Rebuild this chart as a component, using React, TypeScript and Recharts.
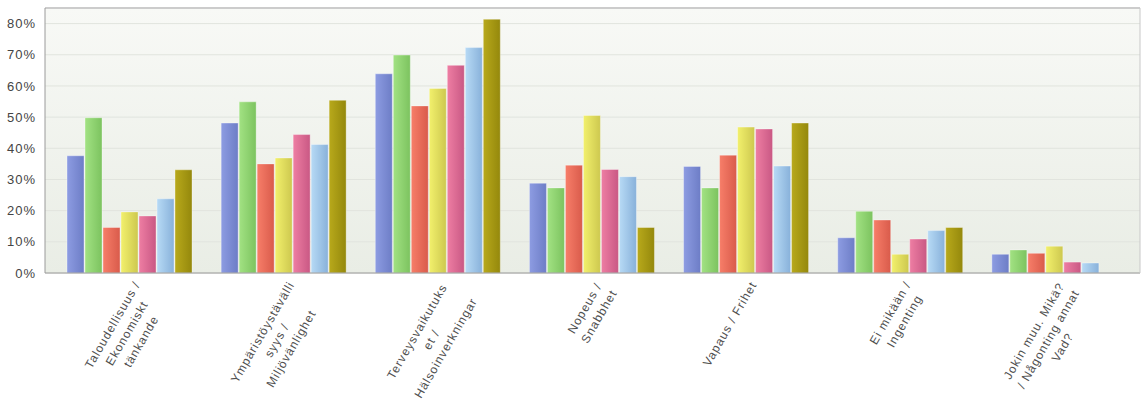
import React from 'react';
import { BarChart, Bar, XAxis, YAxis, CartesianGrid, ReferenceLine } from 'recharts';

const categories = [
  'Taloudellisuus /\nEkonomiskt\ntänkande',
  'Ympäristöystävälli\nsyys /\nMiljövänlighet',
  'Terveysvaikutuks\net /\nHälsoinverkningar',
  'Nopeus /\nSnabbhet',
  'Vapaus / Frihet',
  'Ei mikään /\nIngenting',
  'Jokin muu. Mikä?\n/ Någonting annat\nVad?',
];

const blue = [37.6, 48.1, 63.9, 28.8, 34.2, 11.3, 6.0];
const green = [49.8, 54.9, 69.9, 27.3, 27.3, 19.8, 7.4];
const red = [14.6, 35.0, 53.6, 34.6, 37.8, 17.0, 6.3];
const yellow = [19.6, 36.9, 59.2, 50.5, 46.8, 6.0, 8.6];
const pink = [18.3, 44.4, 66.6, 33.2, 46.2, 10.9, 3.5];
const lightBlue = [23.8, 41.2, 72.3, 30.9, 34.3, 13.6, 3.2];
const olive = [33.1, 55.4, 81.4, 14.6, 48.1, 14.6, null];

const yTicks = [0, 10, 20, 30, 40, 50, 60, 70, 80];

const series = [
  { key: 's1', values: blue, light: '#8d9ce2', dark: '#6d7dc6' },
  { key: 's2', values: green, light: '#a2e283', dark: '#7cc35f' },
  { key: 's3', values: red, light: '#f77e69', dark: '#d95b4b' },
  { key: 's4', values: yellow, light: '#f2f06c', dark: '#cdc84f' },
  { key: 's5', values: pink, light: '#ee7ea3', dark: '#c95884' },
  { key: 's6', values: lightBlue, light: '#b7daf5', dark: '#88b1da' },
  { key: 's7', values: olive, light: '#b8a91b', dark: '#94880c' },
];

const data = categories.map((name, i) => {
  const row: Record<string, string | number | null> = { name };
  series.forEach((s) => {
    row[s.key] = s.values[i];
  });
  return row;
});

const FONT = '"Liberation Sans", Arial, sans-serif';
const SPACING = 1;

let ctx: CanvasRenderingContext2D | null = null;
function measure(text: string) {
  if (!ctx) ctx = document.createElement('canvas').getContext('2d');
  if (!ctx) return text.length * 6.8;
  ctx.font = `12px ${FONT}`;
  return ctx.measureText(text).width + SPACING * text.length;
}

// rotated, centre-aligned multi-line category label
function CategoryTick(props: any) {
  const { x, y, payload } = props;
  const lines = String(payload.value).split('\n');
  const wmax = Math.max(...lines.map(measure));
  return (
    <g transform={`translate(${x + 2},${y + 4}) rotate(-60)`}>
      {lines.map((line, i) => (
        <text
          key={i}
          x={-wmax / 2}
          y={11 + i * 16.5}
          textAnchor="middle"
          fontSize={12}
          fontFamily={FONT}
          letterSpacing={SPACING}
          fill="#505050"
        >
          {line}
        </text>
      ))}
    </g>
  );
}

export default function App() {
  return (
    <div style={{ position: 'absolute', left: 0, top: 0, background: '#fff' }}>
      <BarChart
        width={1146}
        height={419}
        data={data}
        margin={{ top: 8, right: 5, bottom: 0, left: 0 }}
        barSize={17}
        barGap={1}
      >
        <defs>
          <linearGradient id="plotBg" x1="0" y1="0" x2="0" y2="1">
            <stop offset="0%" stopColor="#f8f9f6" />
            <stop offset="100%" stopColor="#e9ede5" />
          </linearGradient>
          {series.map((s) => (
            <linearGradient key={s.key} id={`g-${s.key}`} x1="0" y1="0" x2="1" y2="0">
              <stop offset="0%" stopColor={s.light} />
              <stop offset="100%" stopColor={s.dark} />
            </linearGradient>
          ))}
        </defs>
        <CartesianGrid vertical={false} stroke="#e1e4de" fill="url(#plotBg)" fillOpacity={1} />
        <XAxis
          dataKey="name"
          interval={0}
          height={146}
          tickLine={false}
          tickSize={0}
          padding={{ left: 7, right: 9 }}
          axisLine={{ stroke: '#9a9a9a' }}
          tick={<CategoryTick />}
        />
        <YAxis
          width={45}
          domain={[0, 85]}
          ticks={yTicks}
          allowDataOverflow
          tickLine={false}
          tickMargin={3}
          axisLine={{ stroke: '#9a9a9a' }}
          tickFormatter={(v: number) => `${v}%`}
          tick={{ fontSize: 13, fontFamily: FONT, fill: '#444', letterSpacing: SPACING }}
        />
        <YAxis
          yAxisId="frame"
          orientation="right"
          width={1}
          domain={[0, 85]}
          tick={false}
          tickLine={false}
          axisLine={{ stroke: '#c8c8c8' }}
        />
        <ReferenceLine y={85} stroke="#cccccc" strokeWidth={2} />
        {series.map((s) => (
          <Bar
            key={s.key}
            dataKey={s.key}
            fill={`url(#g-${s.key})`}
            stroke="#ffffff"
            strokeOpacity={0.35}
            strokeWidth={1}
            isAnimationActive={false}
          />
        ))}
      </BarChart>
    </div>
  );
}
